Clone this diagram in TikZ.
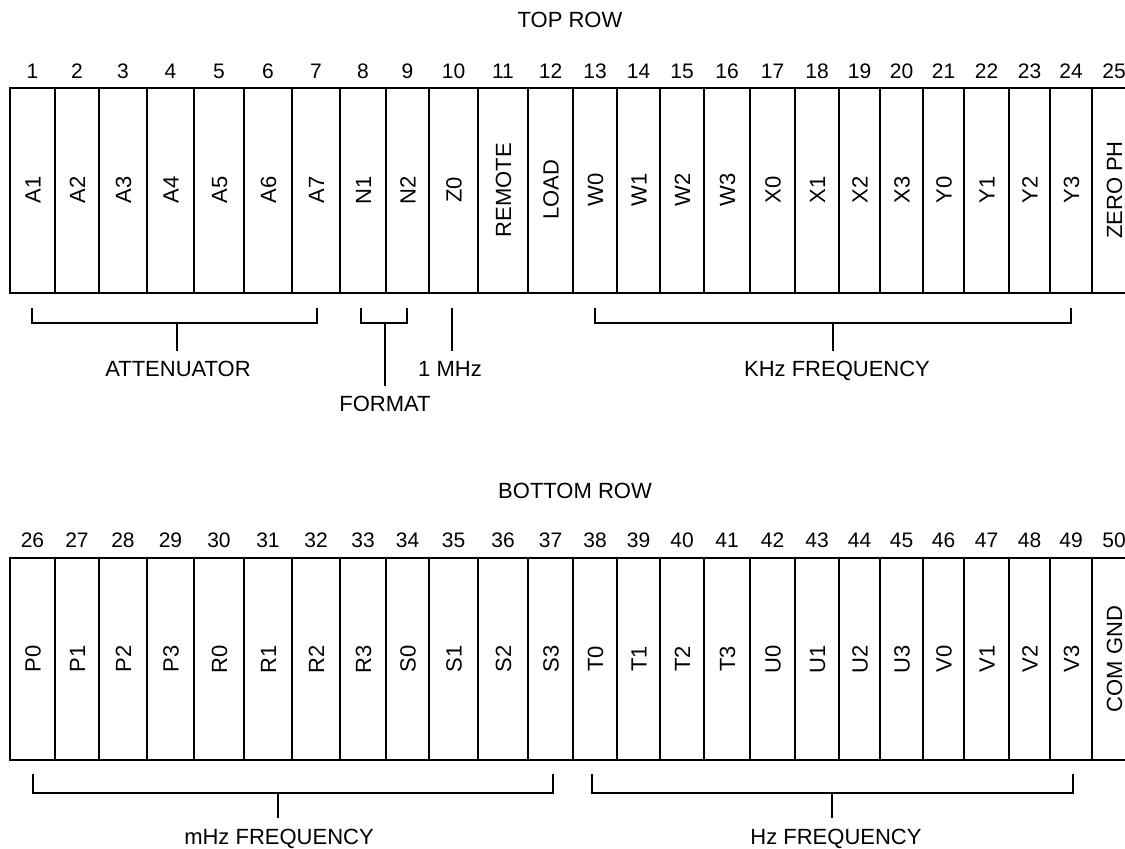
\documentclass[tikz,border=0pt]{standalone}
\usepackage{fontspec}
\setmainfont{Liberation Sans}

\tikzset{
  pinlabel/.style={rotate=90, font=\fontsize{22}{26}\selectfont, inner sep=0pt, text height=16pt, text depth=0pt},
  pinnum/.style={font=\fontsize{21}{25}\selectfont, inner sep=0pt},
  grouplabel/.style={font=\fontsize{22}{26}\selectfont, inner sep=0pt, text height=16pt, text depth=0pt, outer ysep=10pt},
}

\begin{document}
\begin{tikzpicture}[x=1pt, y=-1pt, line width=2.2pt]
        \useasboundingbox (0,0) rectangle (1125,849);

        % Titles
        \node[grouplabel] (toptitle) at (570,19.5) {TOP ROW};
        \node[grouplabel] (bottitle) at (575,490) {BOTTOM ROW};

        % Connector strips (open at the right)
        \foreach \yt/\yb in {88/293, 558/760}
            \draw (1125,\yt) -- (10,\yt) -- (10,\yb) -- (1125,\yb);

        % Pins: left edge / right edge / top pin / bottom pin
        \foreach \l/\r/\tp/\bt [count=\n] in {10/55/A1/P0, 55/99/A2/P1, 99/147/A3/P2, 147/194/A4/P3,
                194/244/A5/R0, 244/292/A6/R1, 292/340/A7/R2, 340/386/N1/R3, 386/429/N2/S0,
                429/478/Z0/S1, 478/528/REMOTE/S2, 528/573/LOAD/S3, 573/617/W0/T0, 617/660/W1/T1,
                660/704/W2/T2, 704/750/W3/T3, 750/795/X0/U0, 795/839/X1/U1, 839/880/X2/U2,
                880/923/X3/U3, 923/964/Y0/V0, 964/1009/Y1/V1, 1009/1050/Y2/V2, 1050/1092/Y3/V3,
                1092/1136/ZERO PH/COM GND} {
            \pgfmathtruncatemacro{\m}{\n+25}
            \draw (\l,88) -- (\l,293);
            \draw (\l,558) -- (\l,760);
            \node[pinlabel] (top\n) at ({(\l+\r)/2},190) {\tp};
            \node[pinnum] (topnum\n) at ({(\l+\r)/2},71.5) {\n};
            \node[pinlabel] (bot\n) at ({(\l+\r)/2},659) {\bt};
            \node[pinnum] (botnum\n) at ({(\l+\r)/2},540) {\m};
        }

        % Top row groups
        \coordinate (attL) at (32,308);
        \coordinate (attR) at (317,308);
        \coordinate (attC) at (177,323);
        \coordinate (fmtL) at (361,308);
        \coordinate (fmtR) at (407,308);
        \coordinate (fmtC) at (385,323);
        \coordinate (zeroC) at (452,308);
        \coordinate (khzL) at (595,308);
        \coordinate (khzR) at (1071,308);
        \coordinate (khzC) at (833,323);

        \node[grouplabel] (att) at (178,368.5) {ATTENUATOR};
        \node[grouplabel] (fmt) at (385,403.5) {FORMAT};
        \node[grouplabel] (onemhz) at (450,368.5) {1 MHz};
        \node[grouplabel] (khz) at (837,368.5) {KHz FREQUENCY};

        \draw (attL) |- (attC) -| (attR);
        \draw (attC) -- (attC |- att.north);
        \draw (fmtL) |- (fmtC) -| (fmtR);
        \draw (fmtC) -- (fmtC |- fmt.north);
        \draw (zeroC) -- (zeroC |- onemhz.north);
        \draw (khzL) |- (khzC) -| (khzR);
        \draw (khzC) -- (khzC |- khz.north);

        % Bottom row groups
        \coordinate (mhzL) at (33,774);
        \coordinate (mhzR) at (553,774);
        \coordinate (mhzC) at (278,793);
        \coordinate (hzL) at (592,774);
        \coordinate (hzR) at (1073,774);
        \coordinate (hzC) at (832,793);

        \node[grouplabel] (mhz) at (279,836) {mHz FREQUENCY};
        \node[grouplabel] (hz) at (836,836) {Hz FREQUENCY};

        \draw (mhzL) |- (mhzC) -| (mhzR);
        \draw (mhzC) -- (mhzC |- mhz.north);
        \draw (hzL) |- (hzC) -| (hzR);
        \draw (hzC) -- (hzC |- hz.north);
    \end{tikzpicture}
\end{document}
